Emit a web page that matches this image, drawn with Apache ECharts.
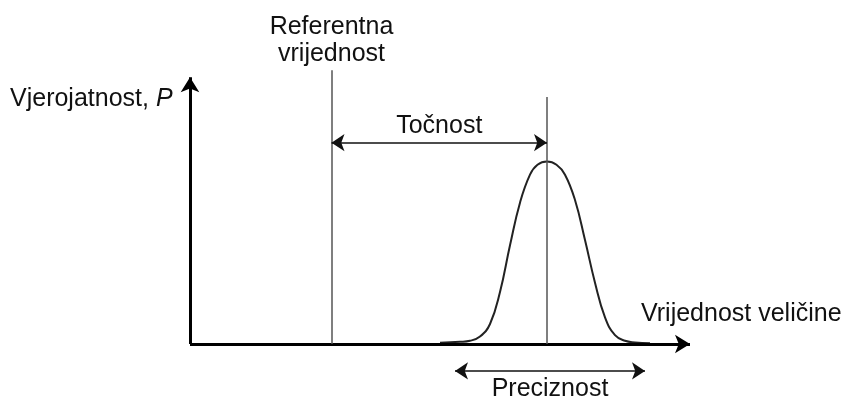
<!DOCTYPE html>
<html>
<head>
<meta charset="utf-8">
<script src="https://cdn.jsdelivr.net/npm/echarts@6/dist/echarts.min.js"></script>
<style>html,body{margin:0;padding:0;background:#fff}#c{width:846px;height:400px}</style>
</head>
<body>
<div id="c"></div>
<script>
// Distribution curve: [value, probability]
var curveX = [50, 54, 56, 58, 60, 62, 64, 66, 68, 69.5, 71.4, 73.3, 75, 77, 79, 81, 83, 85, 87, 89, 92];
var curveY = [0.5, 0.8, 1.2, 2.8, 7.5, 19.5, 37, 53, 63.5, 67.2, 68.4, 67.2, 63.5, 54, 39, 23, 10, 3.3, 1.2, 0.6, 0.3];
// Axis extents (arrow tips)
var axisEndX = 100;
var axisEndY = 100;
// Reference value and its line top
var referenceValue = 28.3;
var referenceTop = 102.7;
// Mean value and its line top
var meanValue = 71.4;
var meanTop = 92.6;
// Accuracy arrow (Točnost)
var accuracyLevel = 75.5;
// Precision arrow (Preciznost)
var precisionFrom = 53;
var precisionTo = 91;
var precisionLevel = -10.1;
// Texts
var yAxisTitle = 'Vjerojatnost, ';
var yAxisSymbol = 'P';
var xAxisTitle = 'Vrijednost veličine';
var referenceLabel = 'Referentna\nvrijednost';
var accuracyLabel = 'Točnost';
var precisionLabel = 'Preciznost';

var FONT = '"Liberation Sans", Arial, sans-serif';
var FS = 25;
var curveData = curveX.map(function (x, i) { return [x, curveY[i]]; });

var chart = echarts.init(document.getElementById('c'), null, { renderer: 'canvas' });
chart.setOption({
  animation: false,
  backgroundColor: '#fff',
  grid: { left: 0, right: 0, top: 0, bottom: 0 },
  xAxis: { type: 'value', min: -38, max: 131.2, show: false },
  yAxis: { type: 'value', min: -21, max: 129, show: false },
  graphic: [
    {
      type: 'text', left: 10, top: 87,
      style: {
        text: '{n|' + yAxisTitle + '}{i|' + yAxisSymbol + '}',
        rich: {
          n: { fontSize: FS, fontFamily: FONT, fill: '#111' },
          i: { fontSize: FS, fontFamily: FONT, fill: '#111', fontStyle: 'italic' }
        }
      }
    },
    {
      type: 'text', left: 641, top: 302,
      style: { text: xAxisTitle, fontSize: FS, fontFamily: FONT, fill: '#111' }
    }
  ],
  series: [
    {
      type: 'line',
      data: curveData,
      smooth: 0.45,
      showSymbol: false,
      symbol: 'none',
      clip: false,
      lineStyle: { color: '#222', width: 2 },
      silent: true,
      z: 3,
      markLine: {
        silent: true,
        animation: false,
        precision: 4,
        data: [
          [
            { coord: [0, 0], symbol: 'none', lineStyle: { color: '#000', width: 3, type: 'solid' } },
            { coord: [axisEndX, 0], symbol: 'arrow', symbolSize: [14, 15] }
          ],
          [
            { coord: [0, 0], symbol: 'none', lineStyle: { color: '#000', width: 3, type: 'solid' } },
            { coord: [0, axisEndY], symbol: 'arrow', symbolSize: [14, 15] }
          ],
          [
            { coord: [referenceValue, 0], symbol: 'none', lineStyle: { color: '#555', width: 1.5, type: 'solid' },
              label: { show: true, position: 'end', formatter: referenceLabel, fontSize: FS, lineHeight: 27, fontFamily: FONT, color: '#111', distance: 3 } },
            { coord: [referenceValue, referenceTop], symbol: 'none' }
          ],
          [
            { coord: [meanValue, 0], symbol: 'none', lineStyle: { color: '#555', width: 1.5, type: 'solid' }, label: { show: false } },
            { coord: [meanValue, meanTop], symbol: 'none' }
          ],
          [
            { coord: [referenceValue, accuracyLevel], symbol: 'arrow', symbolSize: [13, 13],
              lineStyle: { color: '#111', width: 1.5, type: 'solid' },
              label: { show: true, position: 'insideMiddleTop', formatter: accuracyLabel, fontSize: FS, fontFamily: FONT, color: '#111', distance: 4 } },
            { coord: [meanValue, accuracyLevel], symbol: 'arrow', symbolSize: [13, 13] }
          ],
          [
            { coord: [precisionFrom, precisionLevel], symbol: 'arrow', symbolSize: [13, 13],
              lineStyle: { color: '#111', width: 1.5, type: 'solid' },
              label: { show: true, position: 'insideMiddleBottom', formatter: precisionLabel, fontSize: FS, fontFamily: FONT, color: '#111', distance: 6 } },
            { coord: [precisionTo, precisionLevel], symbol: 'arrow', symbolSize: [13, 13] }
          ]
        ]
      }
    }
  ]
});
</script>
</body>
</html>
